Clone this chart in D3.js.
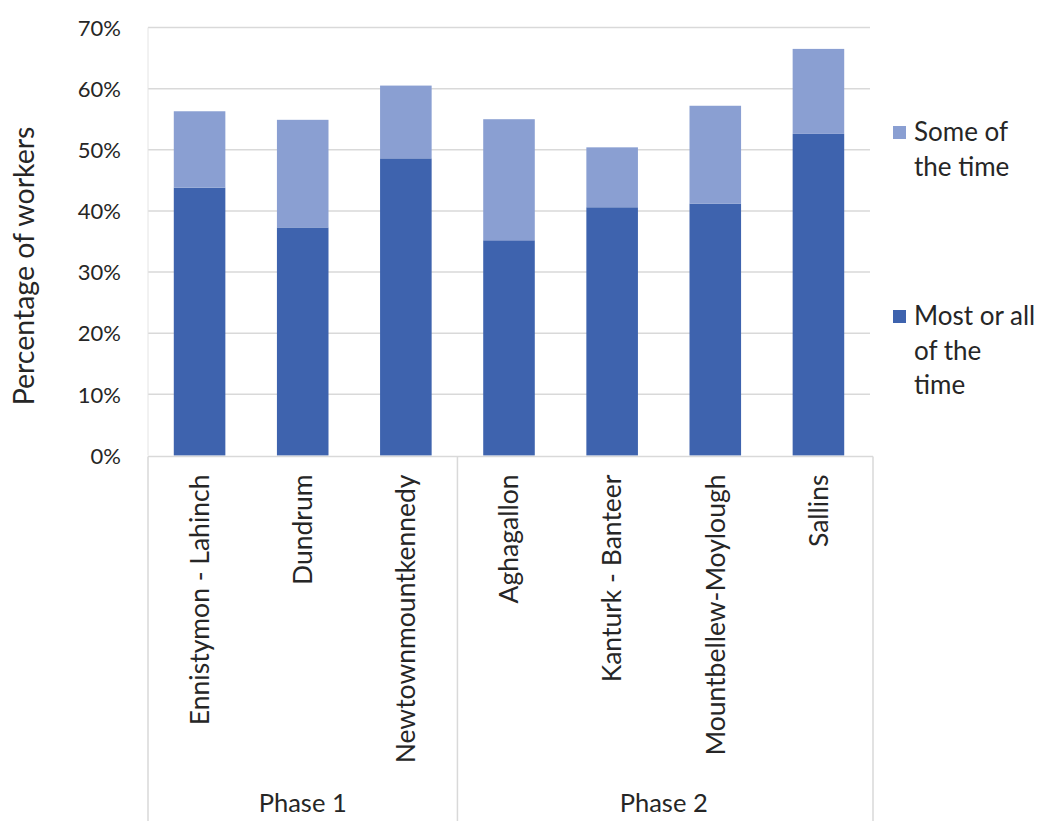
<!DOCTYPE html>
<html><head><meta charset="utf-8">
<script src="https://cdn.jsdelivr.net/npm/d3@7"></script>
<style>body{margin:0;background:#fff}svg{display:block}text{font-family:Lato,"Open Sans",sans-serif;fill:#262626}</style>
</head><body><svg id="c" width="1041" height="821"></svg>
<script>
const categories = ["Ennistymon - Lahinch","Dundrum","Newtownmountkennedy","Aghagallon","Kanturk - Banteer","Mountbellew-Moylough","Sallins"];
const phases = ["Phase 1","Phase 1","Phase 1","Phase 2","Phase 2","Phase 2","Phase 2"];
const mostOrAll = [0.438,0.373,0.486,0.352,0.406,0.412,0.526];
const someOfTime = [0.125,0.176,0.119,0.198,0.098,0.160,0.139];
const seriesNames = ["Most or all of the time","Some of the time"];
const yTicks = [0,0.1,0.2,0.3,0.4,0.5,0.6,0.7];

const colors = {"Most or all of the time":"#3e63ae","Some of the time":"#8a9fd2"};
const svg = d3.select("#c");
const L=148,R=870,T=27.5,B=455.5;
const x = d3.scaleBand().domain(categories).range([L,R]).paddingInner(0.5).paddingOuter(0.25);
const y = d3.scaleLinear().domain([0,0.7]).range([B,T]);

// gridlines
svg.append("g").selectAll("line").data(yTicks.slice(1)).join("line")
  .attr("x1",L).attr("x2",R).attr("y1",d=>y(d)).attr("y2",d=>y(d))
  .attr("stroke","#d9d9d9").attr("stroke-width",1.5);
svg.append("line").attr("x1",L).attr("x2",L).attr("y1",T).attr("y2",B).attr("stroke","#e4e4e4").attr("stroke-width",1);

// y axis
const yAxis = d3.axisLeft(y).tickValues(yTicks).tickFormat(d3.format(".0%")).tickSize(0).tickPadding(0);
const ga = svg.append("g").attr("transform",`translate(121,0)`).call(yAxis);
ga.select(".domain").remove();
ga.selectAll("text").attr("font-size",22).attr("dy","0.35em").style("font-family","Lato,sans-serif").attr("fill","#404040");

// stacked bars
const rows = categories.map((c,i)=>({cat:c,"Most or all of the time":mostOrAll[i],"Some of the time":someOfTime[i]}));
const stack = d3.stack().keys(seriesNames)(rows);
svg.append("g").selectAll("g").data(stack).join("g").attr("fill",d=>colors[d.key])
  .selectAll("rect").data(d=>d).join("rect")
  .attr("x",d=>x(d.data.cat)).attr("width",x.bandwidth())
  .attr("y",d=>y(d[1])).attr("height",d=>y(d[0])-y(d[1]));

// category axis lines
const step = x.step();
svg.append("line").attr("x1",L).attr("x2",R+3).attr("y1",B+1).attr("y2",B+1).attr("stroke","#d9d9d9").attr("stroke-width",1.5);
const groups = d3.groups(categories.map((c,i)=>({c,p:phases[i],i})), d=>d.p);
const bounds = [L];
groups.forEach(g=>bounds.push(L+step*(d3.max(g[1],d=>d.i)+1)));
svg.append("g").selectAll("line").data(bounds).join("line")
  .attr("x1",(d,i)=>i===bounds.length-1?d+3:d).attr("x2",(d,i)=>i===bounds.length-1?d+3:d)
  .attr("y1",B+1).attr("y2",821).attr("stroke","#d9d9d9").attr("stroke-width",1.5);

// category labels
const xAxis = d3.axisBottom(x).tickSize(0).tickPadding(0);
const gx = svg.append("g").attr("transform",`translate(0,${B})`).call(xAxis);
gx.select(".domain").remove();
gx.selectAll("text").attr("transform","rotate(-90)").attr("text-anchor","end")
  .attr("x",-19).attr("y",0).attr("dy","0.35em").attr("font-size",26.5).attr("fill","#262626");

// phase labels
svg.append("g").selectAll("text").data(groups).join("text")
  .attr("x",(d,i)=>(bounds[i]+bounds[i+1])/2).attr("y",812)
  .attr("text-anchor","middle").attr("font-size",25.5).text(d=>d[0]);

// y title
svg.append("text").attr("transform","translate(34,266) rotate(-90)").attr("text-anchor","middle")
  .attr("font-size",28.5).text("Percentage of workers");

// legend
const legend = [
  {name:"Some of the time", lines:["Some of","the time"], y:141},
  {name:"Most or all of the time", lines:["Most or all","of the","time"], y:325}
];
const lg = svg.append("g").selectAll("g").data(legend).join("g");
lg.append("rect").attr("x",893).attr("y",d=>d.y-15).attr("width",13).attr("height",13).attr("fill",d=>colors[d.name]);
lg.append("text").attr("font-size",26).selectAll("tspan").data(d=>d.lines.map((l,i)=>({l,i,y:d.y}))).join("tspan")
  .attr("x",914).attr("y",d=>d.y+d.i*34.5).text(d=>d.l);
</script></body></html>
